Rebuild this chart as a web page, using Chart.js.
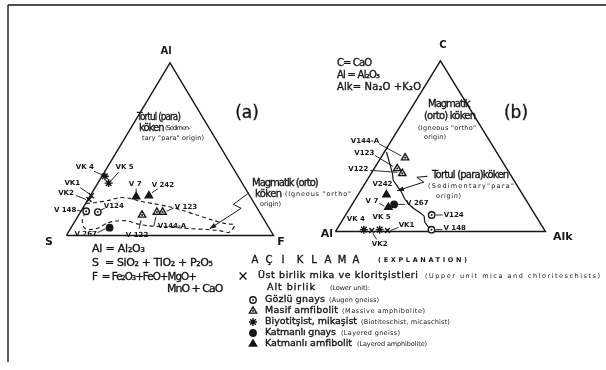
<!DOCTYPE html>
<html>
<head>
<meta charset="utf-8">
<title>Al-S-F and C-Al-Alk diagrams</title>
<script src="https://cdn.jsdelivr.net/npm/chart.js"></script>
<style>
  html, body { margin: 0; padding: 0; background: #fff; }
  #chart { display: block; }
</style>
</head>
<body>
<canvas id="chart" width="606" height="370"></canvas>
<script>
// ---- (a) Al - S - F diagram, values in %  (S = 100 - Al - F) ----
const aNames = ['VK 4', 'VK 5', 'VK1', 'VK2', 'V 148', 'V124', 'V 267', 'V 7', 'V 242', 'V 122', 'V144-A', 'V 123'];
const aRocks = ['bio', 'bio', 'mica', 'mica', 'augen', 'augen', 'lgneiss', 'lamph', 'lamph', 'mamph', 'mamph', 'mamph'];
const aAl = [34.3, 30.3, 23.0, 20.8, 14.0, 13.5, 4.5, 22.5, 23.0, 11.8, 13.5, 13.5];
const aF  = [1.4, 5.2, 0.5, 0.5, 2.5, 8.4, 18.6, 22.4, 28.3, 30.6, 36.9, 39.7];

// dashed field outline
const aFieldAl = [18.5, 19.1, 20.2, 21.9, 21.3, 19.7, 18.5, 16.9, 14.6, 11.8, 9.0, 6.7, 6.2, 3.4, 1.7,
                  2.8, 3.4, 3.9, 4.5, 5.1, 5.6, 6.7, 8.4, 8.4, 7.3, 4.5, 3.4, 4.5, 8.4, 11.8];
const aFieldF  = [0.2, 4.7, 9.8, 15.1, 20.6, 26.2, 32.4, 40.4, 48.6, 57.1, 65.7, 73.9, 78.0, 78.4, 77.4,
                  72.5, 66.1, 58.7, 51.3, 43.9, 36.5, 30.8, 25.2, 20.4, 16.3, 13.4, 9.7, 6.3, 3.4, 2.6];

// arrow from the "Magmatik" note
const aArrowAl = [24.7, 18.0, 15.7, 3.9];
const aArrowF  = [75.8, 71.6, 76.5, 67.2];

// ---- (b) C - Al - Alk diagram, values in %  (Al = 100 - C - Alk) ----
const bNames = ['VK 4', 'VK2', 'VK 5', 'VK1', 'V 148', 'V124', 'V 267', 'V 7', 'V242', 'V122', 'V123', 'V144-A'];
const bRocks = ['bio', 'mica', 'bio', 'mica', 'augen', 'augen', 'lgneiss', 'lamph', 'lamph', 'mamph', 'mamph', 'mamph'];
const bC   = [1.1, 0.6, 1.1, 0.6, 1.1, 9.7, 15.9, 14.2, 21.6, 34.1, 36.9, 43.2];
const bAlk = [13.0, 17.0, 20.5, 24.5, 45.2, 41.0, 20.0, 18.1, 13.5, 14.8, 11.0, 11.6];

// ortho / para boundary
const bLineC   = [46.6, 34.1, 30.1, 27.3, 23.3, 18.8, 14.8, 11.9, 9.1, 5.7, 1.7, 0];
const bLineAlk = [1.0, 10.1, 12.5, 15.4, 19.7, 23.8, 28.6, 33.3, 37.6, 39.7, 44.0, 45.8];

// arrow from the "Tortul" note
const bArrowC   = [32.4, 31.8, 29.0, 23.9];
const bArrowAlk = [27.7, 22.9, 27.6, 17.5];

// ---- layout ----
const FONT = '"DejaVu Sans", sans-serif';
const ink = '#161616';
const W = 606, H = 370;
const triA = { left: 62, right: 273, base: 237, top: 59 };
const triB = { left: 336, right: 550, base: 233, top: 57 };

const rockStyle = {
  mica:    { pointStyle: 'crossRot', radius: 3.5, fill: false },
  bio:     { pointStyle: 'star', radius: 4, fill: false },
  augen:   { pointStyle: 'circle', radius: 3.2, fill: false, dot: true },
  mamph:   { pointStyle: 'triangle', radius: 4.2, fill: false, dot: true },
  lgneiss: { pointStyle: 'circle', radius: 3.2, fill: true },
  lamph:   { pointStyle: 'triangle', radius: 4.2, fill: true }
};

// label offsets from the point: text dx, dy, align, leader from dx,dy to dx,dy
const aTags = [
  [-20, -9, 'center', -11, -5, -2, -1],
  [16, -16, 'center', 10, -11, 3, -3],
  [-19, -13, 'center', -11, -8, -2, -2],
  [-23, -6, 'center', -13, -4, -3, 0],
  [-21, -1, 'center', -9, -1, -4, 0],
  [16, -6, 'center', 7, -4, 3, -2],
  [-24, 7, 'center', -12, 5, -4, 1],
  [-1, -12, 'center', 0, -8, 0, -4],
  [14, -11, 'center', 9, -7, 3, -3],
  [-5, 20, 'center', -3, 14, -1, 5],
  [1, 14, 'left', -3, 14, -1, 5],
  [12, -5, 'left', 11, -4, 4, -1]
];
const bTags = [
  [-8, -10, 'center', 0, 0, 0, 0],
  [8, 14, 'center', 5, 9, 1, 3],
  [2, -12, 'center', 0, 0, 0, 0],
  [19, -5, 'center', 11, -3, 3, 0],
  [12, -1, 'left', 4, 0, 11, 0],
  [12, 0, 'left', 4, 0, 11, 0],
  [12, -1, 'left', 4, 0, 11, 0],
  [-10, -6, 'right', -9, -4, -4, -1],
  [-4, -10, 'center', 0, 0, 0, 0],
  [-34, -4, 'right', -32, -3, -5, -1],
  [-23, -15, 'right', -22, -13, -4, -2],
  [-26, -17, 'right', -26, -14, -4, -2]
];

// text: string, x, y, size, bold, align, width
const texts = [
  ['Al', 166, 51, 10, true, 'center'],
  ['S', 49, 242, 11, true, 'center'],
  ['F', 281, 242, 11, true, 'center'],
  ['(a)', 247, 114, 17, false, 'center'],
  ['Tortul (para)', 137, 117, 10, false, 'left', 40],
  ['köken', 139, 128, 10, false, 'left', 24],
  ['(Sedimen-', 165, 128, 6.5, false, 'left', 22],
  ['tary "para" origin)', 142, 138, 6.5, false, 'left', 62],
  ['Magmatik (orto)', 252, 183, 10, false, 'left', 66],
  ['köken', 255, 194, 10, false, 'left', 27],
  ['(Igneous "ortho"', 285, 194, 6.5, false, 'left', 66],
  ['origin)', 260, 204, 6.5, false, 'left', 21],
  ['Al = Al₂O₃', 92, 249, 11, false, 'left', 53],
  ['S  = SiO₂ + TiO₂ + P₂O₅', 92, 263, 11, false, 'left', 121],
  ['F  = Fe₂O₃+FeO+MgO+', 92, 277, 11, false, 'left', 101],
  ['MnO + CaO', 167, 289, 11, false, 'left', 55],

  ['C', 443, 45, 10, true, 'center'],
  ['Al', 327, 234, 11, true, 'center'],
  ['Alk', 553, 237, 11, true, 'left'],
  ['(b)', 516, 114, 17, false, 'center'],
  ['C= CaO', 337, 63, 10, false, 'left', 35],
  ['Al = Al₂O₃', 337, 75, 10, false, 'left', 43],
  ['Alk= Na₂O +K₂O', 337, 87, 10, false, 'left', 84],
  ['Magmatik', 428, 104, 10, false, 'left', 42],
  ['(orto) köken', 424, 116, 10, false, 'left', 52],
  ['(Igneous "ortho"', 418, 128, 6.5, false, 'left', 58],
  ['origin)', 424, 137, 6.5, false, 'left', 22],
  ['Tortul (para)köken', 432, 175, 10, false, 'left', 77],
  ['(Sedimentary"para"', 428, 186, 6.5, false, 'left', 86],
  ['origin)', 436, 196, 6.5, false, 'left', 25],

  ['(EXPLANATION)', 378, 260, 6.5, true, 'left', 89]
];
const headLetters = ['A', 'Ç', 'I', 'K', 'L', 'A', 'M', 'A'];
const headX = [255, 269, 283, 300, 314, 328, 342, 356];

// legend: rock, symbol x, y, turkish text, x, width, english text, x, width
const legendRows = [
  ['mica', 243, 276, 'Üst birlik mika ve kloritşistleri', 258, 160, '(Upper unit mica and chloriteschists)', 425, 175],
  [null, 0, 288, 'Alt birlik', 267, 48, '(Lower unit):', 330, 40],
  ['augen', 253, 300, 'Gözlü gnays', 265, 60, '(Augen gneiss)', 329, 50],
  ['mamph', 253, 311, 'Masif amfibolit', 265, 73, '(Massive amphibolite)', 342, 83],
  ['bio', 253, 322, 'Biyotitşist, mikaşist', 265, 92, '(Biotiteschist, micaschist)', 361, 89],
  ['lgneiss', 253, 333, 'Katmanlı gnays', 265, 71, '(Layered gneiss)', 341, 59],
  ['lamph', 253, 344, 'Katmanlı amfibolit', 265, 87, '(Layered amphibolite)', 357, 70]
];

// ternary -> plot coordinates (base 0..100, height 0..100)
const ptA = (al, f) => ({ x: f + al / 2, y: al });
const ptB = (c, alk) => ({ x: alk + c / 2, y: c });

function bounds(t) {
  const kx = (t.right - t.left) / 100, ky = (t.base - t.top) / 100;
  return { x: [-t.left / kx, (W - t.left) / kx], y: [-(H - t.base) / ky, t.base / ky] };
}
const bA = bounds(triA), bB = bounds(triB);

const aPts = aAl.map((v, i) => ptA(v, aF[i]));
const bPts = bC.map((v, i) => ptB(v, bAlk[i]));

function lineSet(data, xID, yID, extra) {
  return Object.assign({
    data, xAxisID: xID, yAxisID: yID, showLine: true, pointRadius: 0,
    borderColor: ink, borderWidth: 1.4, fill: false, order: 10
  }, extra || {});
}

function rockSets(pts, rocks, xID, yID) {
  const sets = [];
  Object.keys(rockStyle).forEach(r => {
    const st = rockStyle[r];
    const data = pts.filter((p, i) => rocks[i] === r);
    if (!data.length) return;
    sets.push({
      data, xAxisID: xID, yAxisID: yID, showLine: false, order: 5,
      pointStyle: st.pointStyle, pointRadius: st.radius, pointBorderWidth: 1.4,
      pointBorderColor: ink, pointBackgroundColor: st.fill ? ink : '#fff'
    });
    if (st.dot) {
      sets.push({
        data, xAxisID: xID, yAxisID: yID, showLine: false, order: 1,
        pointStyle: 'circle', pointRadius: 1, pointBorderWidth: 0, pointBackgroundColor: ink
      });
    }
  });
  return sets;
}

const datasets = [
  lineSet([ptA(0, 0), ptA(0, 100), ptA(100, 0), ptA(0, 0)], 'xa', 'ya'),
  lineSet(aFieldAl.map((v, i) => ptA(v, aFieldF[i])), 'xa', 'ya', { borderDash: [4, 3], borderWidth: 1.1, tension: 0.3 }),
  lineSet(aArrowAl.map((v, i) => ptA(v, aArrowF[i])), 'xa', 'ya', { borderWidth: 1 }),
  lineSet([ptB(0, 0), ptB(0, 100), ptB(100, 0), ptB(0, 0)], 'xb', 'yb'),
  lineSet(bLineC.map((v, i) => ptB(v, bLineAlk[i])), 'xb', 'yb', { tension: 0.35, borderWidth: 1.2 }),
  lineSet(bArrowC.map((v, i) => ptB(v, bArrowAlk[i])), 'xb', 'yb', { borderWidth: 1 })
].concat(rockSets(aPts, aRocks, 'xa', 'ya'), rockSets(bPts, bRocks, 'xb', 'yb'));

function put(c, s, x, y, size, bold, align, width, heavy) {
  c.font = (bold ? 'bold ' : '') + size + 'px ' + FONT;
  c.textAlign = align || 'left';
  c.textBaseline = 'middle';
  c.letterSpacing = '0px';
  let mw;
  if (width) {
    const w = c.measureText(s).width;
    const sp = Math.max(-1, (width - w) / Math.max(1, s.length - 1));
    c.letterSpacing = sp.toFixed(2) + 'px';
    mw = width + 3;
  }
  if (mw) c.fillText(s, x, y, mw); else c.fillText(s, x, y);
  if (heavy) {
    c.lineWidth = 0.35;
    c.strokeStyle = ink;
    if (mw) c.strokeText(s, x, y, mw); else c.strokeText(s, x, y);
  }
  c.letterSpacing = '0px';
}

function seg(c, x1, y1, x2, y2) {
  c.beginPath(); c.moveTo(x1, y1); c.lineTo(x2, y2); c.stroke();
}

function symbol(c, rock, x, y) {
  const st = rockStyle[rock];
  c.fillStyle = st.fill ? ink : '#fff';
  c.lineWidth = 1.4;
  const r = rock === 'mica' ? 4.8 : st.radius;
  Chart.helpers.drawPoint(c, { pointStyle: st.pointStyle, radius: r, borderWidth: 1.4, rotation: 0 }, x, y);
  if (st.dot) {
    c.fillStyle = ink;
    c.beginPath(); c.arc(x, y, 1, 0, Math.PI * 2); c.fill();
  }
}

function tagPoints(c, chart, pts, names, tags, xs, ys) {
  const sx = chart.scales[xs], sy = chart.scales[ys];
  pts.forEach((p, i) => {
    const px = sx.getPixelForValue(p.x), py = sy.getPixelForValue(p.y);
    const t = tags[i];
    c.fillStyle = ink;
    put(c, names[i], px + t[0], py + t[1], 7, true, t[2]);
    c.lineWidth = 0.9;
    if (t[3] || t[4] || t[5] || t[6]) seg(c, px + t[3], py + t[4], px + t[5], py + t[6]);
  });
}

function arrowHead(c, chart, pts, xs, ys) {
  const sx = chart.scales[xs], sy = chart.scales[ys];
  const n = pts.length;
  const x1 = sx.getPixelForValue(pts[n - 2].x), y1 = sy.getPixelForValue(pts[n - 2].y);
  const x2 = sx.getPixelForValue(pts[n - 1].x), y2 = sy.getPixelForValue(pts[n - 1].y);
  const a = Math.atan2(y2 - y1, x2 - x1);
  c.beginPath();
  c.moveTo(x2, y2);
  c.lineTo(x2 - 7 * Math.cos(a - 0.35), y2 - 7 * Math.sin(a - 0.35));
  c.lineTo(x2 - 7 * Math.cos(a + 0.35), y2 - 7 * Math.sin(a + 0.35));
  c.closePath();
  c.fill();
}

const notes = {
  id: 'notes',
  afterDatasetsDraw(chart) {
    const c = chart.ctx;
    c.save();
    c.strokeStyle = ink; c.fillStyle = ink; c.lineWidth = 1.4;
    seg(c, 8, 5, W, 5);
    seg(c, 8, 5, 8, 362);

    texts.forEach(t => { c.fillStyle = ink; put(c, t[0], t[1], t[2], t[3], t[4], t[5], t[6], t[3] >= 9.5 && !t[4]); });
    headLetters.forEach((s, i) => put(c, s, headX[i], 260, 10, false, 'center', 0, true));

    tagPoints(c, chart, aPts, aNames, aTags, 'xa', 'ya');
    tagPoints(c, chart, bPts, bNames, bTags, 'xb', 'yb');

    c.fillStyle = ink;
    arrowHead(c, chart, aArrowAl.map((v, i) => ptA(v, aArrowF[i])), 'xa', 'ya');
    arrowHead(c, chart, bArrowC.map((v, i) => ptB(v, bArrowAlk[i])), 'xb', 'yb');

    legendRows.forEach(r => {
      c.strokeStyle = ink;
      if (r[0]) symbol(c, r[0], r[1], r[2]);
      c.fillStyle = ink;
      put(c, r[3], r[4], r[2], 9.5, false, 'left', r[5], true);
      put(c, r[6], r[7], r[2] + 0.5, 6.5, false, 'left', r[8]);
    });
    c.restore();
  }
};

const axis = (dir, b) => ({ type: 'linear', axis: dir, display: false, min: b[0], max: b[1] });

new Chart(document.getElementById('chart').getContext('2d'), {
  type: 'scatter',
  data: { datasets },
  options: {
    responsive: false,
    animation: false,
    devicePixelRatio: 1,
    events: [],
    layout: { padding: 0 },
    plugins: { legend: { display: false }, tooltip: { enabled: false } },
    scales: {
      xa: axis('x', bA.x), ya: axis('y', bA.y),
      xb: axis('x', bB.x), yb: axis('y', bB.y)
    }
  },
  plugins: [notes]
});
</script>
</body>
</html>
